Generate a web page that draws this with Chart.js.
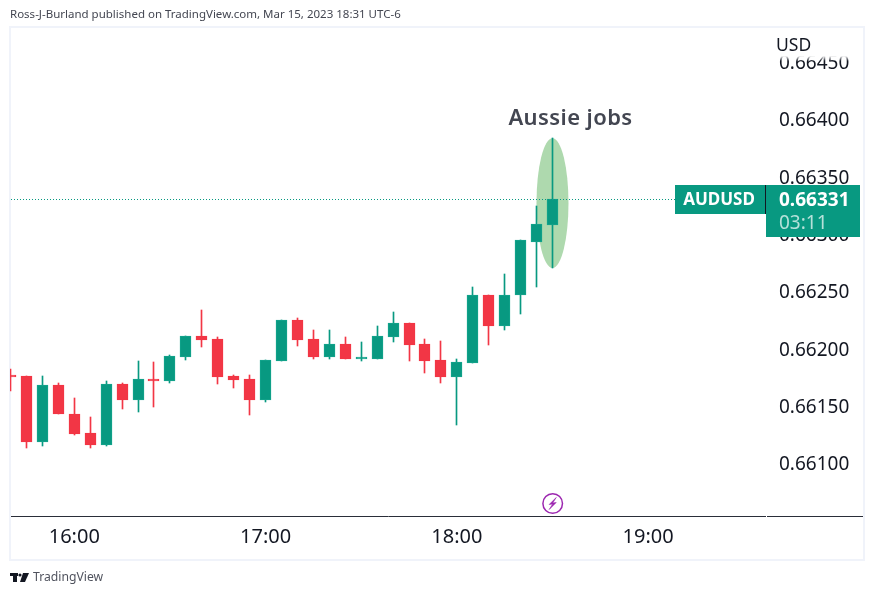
<!DOCTYPE html>
<html>
<head>
<meta charset="utf-8">
<title>AUDUSD</title>
<script src="https://cdn.jsdelivr.net/npm/chart.js@4"></script>
<style>
  html, body { margin: 0; padding: 0; background: #fff; }
  canvas { display: block; }
</style>
</head>
<body>
<canvas id="chart" width="874" height="595"></canvas>
<script>
// minutes since midnight for each 5 minute bar
const barTimes = [940, 945, 950, 955, 960, 965, 970, 975, 980, 985, 990, 995, 1000, 1005, 1010, 1015, 1020, 1025,
    1030, 1035, 1040, 1045, 1050, 1055, 1060, 1065, 1070, 1075, 1080, 1085, 1090, 1095, 1100, 1105, 1110];
const opens = [0.66178, 0.66177, 0.66119, 0.66169, 0.66144, 0.66127, 0.66117, 0.66170, 0.66156, 0.66174, 0.66172, 0.66193,
    0.66212, 0.66209, 0.66177, 0.66174, 0.66156, 0.66190, 0.66226, 0.66209, 0.66193, 0.66205, 0.66192, 0.66192,
    0.66211, 0.66223, 0.66205, 0.66191, 0.66176, 0.66188, 0.66247, 0.66220, 0.66247, 0.66294, 0.66308];
const highs = [0.66183, 0.66177, 0.66177, 0.66171, 0.66158, 0.66141, 0.66172, 0.66171, 0.66190, 0.66189, 0.66195, 0.66212,
    0.66234, 0.66211, 0.66178, 0.66178, 0.66191, 0.66226, 0.66227, 0.66217, 0.66217, 0.66211, 0.66206, 0.66220,
    0.66233, 0.66223, 0.66209, 0.66207, 0.66192, 0.66254, 0.66247, 0.66266, 0.66295, 0.66325, 0.66384];
const lows = [0.66164, 0.66114, 0.66116, 0.66144, 0.66125, 0.66114, 0.66116, 0.66148, 0.66145, 0.66150, 0.66171, 0.66191,
    0.66202, 0.66170, 0.66166, 0.66143, 0.66154, 0.66190, 0.66203, 0.66192, 0.66192, 0.66192, 0.66190, 0.66192,
    0.66206, 0.66190, 0.66179, 0.66171, 0.66134, 0.66188, 0.66204, 0.66217, 0.66231, 0.66254, 0.66271];
const closes = [0.66176, 0.66119, 0.66169, 0.66144, 0.66126, 0.66117, 0.66170, 0.66156, 0.66174, 0.66172, 0.66194, 0.66212,
    0.66208, 0.66176, 0.66173, 0.66156, 0.66191, 0.66226, 0.66208, 0.66193, 0.66205, 0.66192, 0.66193, 0.66212,
    0.66223, 0.66204, 0.66190, 0.66176, 0.66189, 0.66247, 0.66220, 0.66247, 0.66295, 0.66309, 0.66331];

const hourTicks = [960, 1020, 1080, 1140];
const hourLabels = ['16:00', '17:00', '18:00', '19:00'];
const noteText = 'Aussie jobs';
const noteTime = 1110;
const noteTop = 0.66384;
const noteBottom = 0.66271;
const symbol = 'AUDUSD';
const countdown = '03:11';
const header = 'Ross-J-Burland published on TradingView.com, Mar 15, 2023 18:31 UTC-6';

const GREEN = '#089981';
const GREEN_EDGE = '#14a58d';
const RED = '#f23645';
const FONT = '"Noto Sans"';

const isUp = i => closes[i] >= opens[i];

// snap bars to whole pixels so wicks stay 1px and crisp
const snapBars = {
    id: 'snapBars',
    afterDatasetsUpdate(chart) {
        chart.data.datasets.forEach((ds, d) => {
            chart.getDatasetMeta(d).data.forEach(el => {
                el.x = Math.floor(el.x) + 0.5;
                el.y = Math.round(el.y);
                el.base = Math.round(el.base);
            });
        });
    }
};

const extras = {
    id: 'extras',
    beforeDraw(chart) {
        const c = chart.ctx;
        c.save();
        c.fillStyle = '#fff';
        c.fillRect(0, 0, 874, 595);
        c.strokeStyle = '#f0f3fa';
        c.lineWidth = 2;
        c.strokeRect(10, 27, 854, 533);
        c.fillStyle = '#434651';
        c.font = '11.5px ' + FONT;
        c.textBaseline = 'middle';
        c.fillText(header, 10, 15);
        // footer logo
        c.fillStyle = '#131722';
        c.fillRect(10, 573, 8, 3);
        c.fillRect(13, 573, 4, 9);
        c.beginPath();
        c.arc(20, 575, 1.6, 0, Math.PI * 2);
        c.fill();
        c.beginPath();
        c.moveTo(23, 573); c.lineTo(29, 573); c.lineTo(25, 582); c.lineTo(20, 582);
        c.closePath();
        c.fill();
        c.fillStyle = '#50535e';
        c.font = '12.2px ' + FONT;
        c.fillText('TradingView', 33, 577.5);
        c.restore();
    },
    beforeDatasetsDraw(chart) {
        const c = chart.ctx, x = chart.scales.x, y = chart.scales.y;
        const top = y.getPixelForValue(noteTop), bottom = y.getPixelForValue(noteBottom);
        c.save();
        c.fillStyle = '#aed9ae';
        c.beginPath();
        c.ellipse(x.getPixelForValue(noteTime), (top + bottom) / 2, 16, (bottom - top) / 2, 0, 0, Math.PI * 2);
        c.fill();
        c.restore();
    },
    afterDraw(chart) {
        const c = chart.ctx, x = chart.scales.x, y = chart.scales.y;
        const area = chart.chartArea;
        const last = closes[closes.length - 1];
        const py = Math.floor(y.getPixelForValue(last)) + 0.5;
        const tagTop = py - 14.5;
        c.save();

        // last price line
        c.strokeStyle = GREEN;
        c.lineWidth = 1;
        c.setLineDash([1, 2]);
        c.beginPath();
        c.moveTo(area.left + 1, py);
        c.lineTo(675, py);
        c.stroke();
        c.setLineDash([]);

        // time axis line
        c.strokeStyle = '#2a2e39';
        c.beginPath();
        c.moveTo(11, 516.5); c.lineTo(766, 516.5);
        c.moveTo(767, 516.5); c.lineTo(863, 516.5);
        c.stroke();

        // fade the price labels out under the currency
        c.fillStyle = '#fff';
        c.fillRect(767, 28, 96, 28);
        const fade = c.createLinearGradient(0, 56, 0, 61);
        fade.addColorStop(0, 'rgba(255,255,255,1)');
        fade.addColorStop(1, 'rgba(255,255,255,0)');
        c.fillStyle = fade;
        c.fillRect(767, 56, 96, 5);
        c.fillStyle = '#131722';
        c.font = '17.5px ' + FONT;
        c.textBaseline = 'middle';
        c.fillText('USD', 776, 46);

        // note
        c.fillStyle = '#434651';
        c.font = '600 22px ' + FONT;
        c.letterSpacing = '0.4px';
        c.textAlign = 'center';
        c.fillText(noteText, x.getPixelForValue(noteTime) + 18, 119);
        c.letterSpacing = '0px';

        // symbol and price tags
        c.fillStyle = GREEN;
        c.fillRect(675, tagTop, 90, 29);
        c.fillRect(766, tagTop, 94, 52);
        c.fillStyle = '#131722';
        c.fillRect(765, tagTop, 1, 29);
        c.fillStyle = '#fff';
        c.font = 'bold 17px ' + FONT;
        c.fillText(symbol, 719, py + 1);
        c.font = 'bold 19px ' + FONT;
        c.textAlign = 'left';
        c.fillText(last.toFixed(5), 779, py + 1);
        c.font = '19px ' + FONT;
        c.fillStyle = 'rgba(255,255,255,0.7)';
        c.fillText(countdown, 779, py + 24);

        // event marker
        const ex = x.getPixelForValue(noteTime) + 0.2;
        c.strokeStyle = '#9c27b0';
        c.fillStyle = '#9c27b0';
        c.lineWidth = 1.5;
        c.beginPath();
        c.arc(ex, 503.5, 9.8, 0, Math.PI * 2);
        c.stroke();
        c.lineWidth = 0.6;
        c.beginPath();
        c.moveTo(ex + 3.5, 497.5); c.lineTo(ex - 3.5, 504.5); c.lineTo(ex, 504);
        c.lineTo(ex - 3.5, 509.5); c.lineTo(ex + 3.5, 502.5); c.lineTo(ex, 503);
        c.closePath();
        c.fill();
        c.stroke();
        c.restore();
    }
};

new Chart(document.getElementById('chart'), {
    type: 'bar',
    data: {
        labels: barTimes,
        datasets: [
            {
                label: 'wick',
                data: barTimes.map((t, i) => [lows[i], highs[i]]),
                backgroundColor: barTimes.map((t, i) => isUp(i) ? GREEN : RED),
                barThickness: 1,
                grouped: false,
                order: 2
            },
            {
                label: 'body',
                data: barTimes.map((t, i) => [opens[i], closes[i]]),
                backgroundColor: barTimes.map((t, i) => isUp(i) ? GREEN : RED),
                borderColor: barTimes.map((t, i) => isUp(i) ? GREEN_EDGE : RED),
                borderWidth: 1,
                borderSkipped: false,
                barThickness: 11,
                grouped: false,
                order: 1
            }
        ]
    },
    options: {
        responsive: false,
        animation: false,
        layout: { padding: { left: 10, top: 28, right: 11, bottom: 35 } },
        plugins: { legend: { display: false }, tooltip: { enabled: false } },
        scales: {
            x: {
                type: 'linear',
                offset: false,
                min: 939.83,
                max: 1176.66,
                grid: { display: false },
                border: { display: false },
                afterFit(s) { s.height = 44; },
                afterBuildTicks(s) { s.ticks = hourTicks.map(v => ({ value: v })); },
                ticks: {
                    autoSkip: false,
                    maxRotation: 0,
                    includeBounds: false,
                    padding: 1,
                    color: '#131722',
                    font: { family: 'Noto Sans', size: 20 },
                    callback: v => hourLabels[hourTicks.indexOf(v)]
                }
            },
            y: {
                position: 'right',
                min: 0.660547,
                max: 0.664802,
                grid: { display: false },
                border: { display: false },
                afterFit(s) { s.width = 98; },
                ticks: {
                    stepSize: 0.0005,
                    includeBounds: false,
                    padding: 6,
                    labelOffset: 1,
                    color: '#131722',
                    font: { family: 'Noto Sans', size: 19 },
                    callback: v => v.toFixed(5)
                }
            }
        }
    },
    plugins: [snapBars, extras]
});
</script>
</body>
</html>
